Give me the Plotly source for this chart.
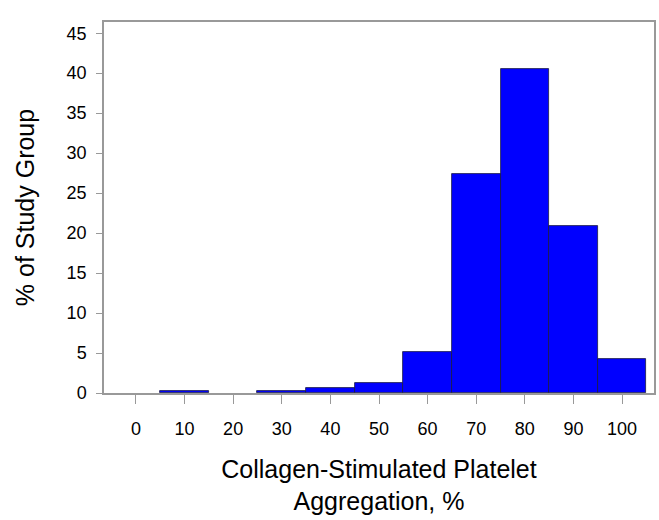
import plotly.graph_objects as go

# Histogram bins (centres, %) of collagen-stimulated platelet aggregation
bin_centers = [0, 10, 20, 30, 40, 50, 60, 70, 80, 90, 100]
percent_of_group = [0, 0.25, 0, 0.2, 0.6, 1.3, 5.1, 27.4, 40.5, 20.9, 4.25]
tick_values = [0, 10, 20, 30, 40, 50, 60, 70, 80, 90, 100]
y_ticks = [0, 5, 10, 15, 20, 25, 30, 35, 40, 45]

# empty bins get no outline so nothing is drawn along the baseline
outline_widths = [0.8 if v > 0 else 0 for v in percent_of_group]

fig = go.Figure(
    go.Bar(
        x=bin_centers,
        y=percent_of_group,
        width=10,
        marker=dict(color="#0000FF", line=dict(color="#1a1a40", width=outline_widths)),
    )
)

font_family = "Liberation Sans, Arial, sans-serif"
tick_font = dict(family=font_family, size=18)

fig.update_layout(
    width=659,
    height=520,
    margin=dict(l=104, r=3, t=22, b=127),
    plot_bgcolor="white",
    paper_bgcolor="white",
    showlegend=False,
    bargap=0,
    font=dict(family=font_family, color="#000000"),
)

fig.update_xaxes(
    range=[-6.56, 106.56],
    tickvals=tick_values,
    ticktext=[str(v) for v in tick_values],
    ticks="outside",
    ticklen=9,
    tickcolor="#999999",
    tickfont=tick_font,
    ticklabelstandoff=10,
    showline=True,
    linecolor="#999999",
    linewidth=1.5,
    mirror=True,
    showgrid=False,
    zeroline=False,
    title=dict(
        text="Collagen-Stimulated Platelet<br>Aggregation, %",
        font=dict(size=25),
        standoff=22,
    ),
)

fig.update_yaxes(
    range=[0, 46.4],
    tickvals=y_ticks,
    ticks="outside",
    ticklen=6,
    tickcolor="#999999",
    tickfont=tick_font,
    ticklabelstandoff=6,
    showline=True,
    linecolor="#999999",
    linewidth=1.5,
    mirror=True,
    showgrid=False,
    zeroline=False,
    title=dict(text="% of Study Group", font=dict(size=25), standoff=25),
)

fig.write_html("out.html")
